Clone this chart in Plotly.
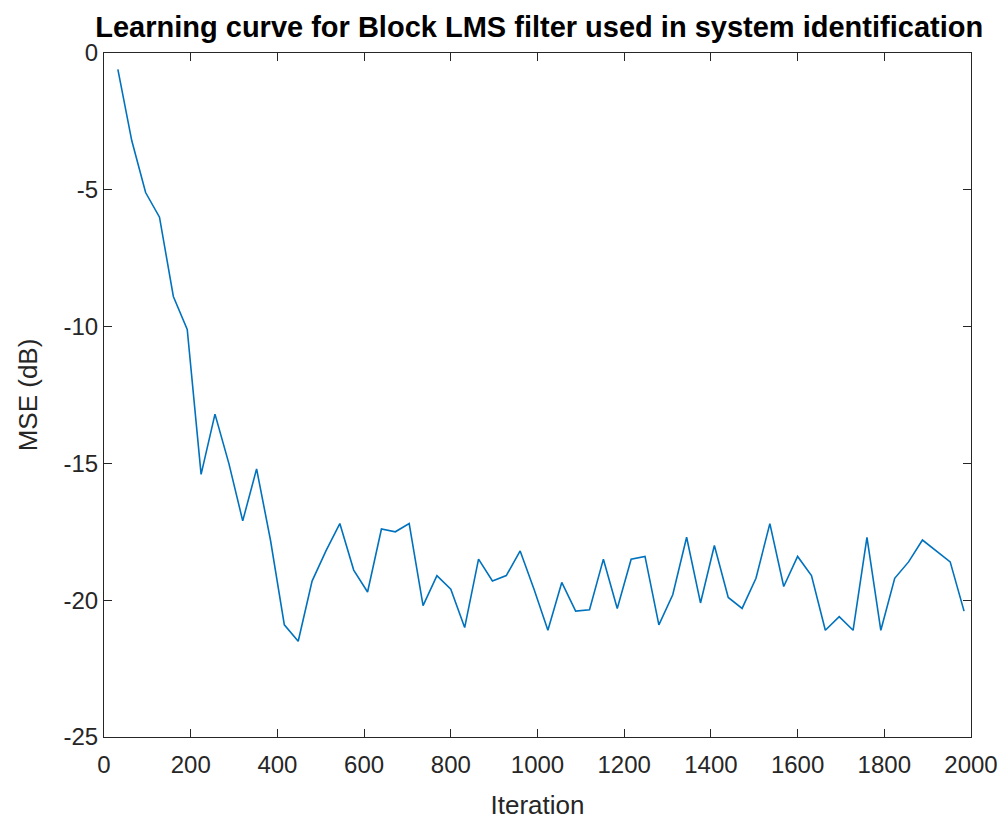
import plotly.graph_objects as go

# Block LMS learning curve: MSE (dB) sampled every block of 32 iterations
block_size = 32
iterations = [block_size * k for k in range(1, 63)]
mse_db = [
    -0.6, -3.2, -5.1, -6.0, -8.9, -10.1, -15.4, -13.2, -15.0, -17.1,
    -15.2, -17.8, -20.9, -21.5, -19.3, -18.2, -17.2, -18.9, -19.7, -17.4,
    -17.5, -17.2, -20.2, -19.1, -19.6, -21.0, -18.5, -19.3, -19.1, -18.2,
    -19.6, -21.1, -19.35, -20.4, -20.35, -18.5, -20.3, -18.5, -18.4, -20.9,
    -19.8, -17.7, -20.1, -18.0, -19.9, -20.3, -19.2, -17.2, -19.5, -18.4,
    -19.1, -21.1, -20.6, -21.1, -17.7, -21.1, -19.2, -18.6, -17.8, -18.2,
    -18.6, -20.4,
]

x_ticks = list(range(0, 2001, 200))
x_tick_labels = [str(v) for v in x_ticks]
y_ticks = [0, -5, -10, -15, -20, -25]
y_tick_labels = [str(v) for v in y_ticks]  # plain hyphen-minus

axis_color = "#262626"
font_family = "Liberation Sans, Arial, sans-serif"

fig = go.Figure(
    go.Scatter(
        x=iterations,
        y=mse_db,
        mode="lines",
        line=dict(color="#0072BD", width=1.6),
        showlegend=False,
    )
)

common_axis = dict(
    showline=True,
    linecolor=axis_color,
    linewidth=1.2,
    mirror="ticks",
    ticks="inside",
    ticklen=8,
    tickwidth=1,
    tickcolor=axis_color,
    showgrid=False,
    zeroline=False,
    automargin=False,
    tickfont=dict(family=font_family, size=24, color=axis_color),
)

fig.update_layout(
    width=1006,
    height=820,
    paper_bgcolor="white",
    plot_bgcolor="white",
    margin=dict(l=104, r=35, t=53, b=83),
    title=dict(
        text="<b>Learning curve for Block LMS filter used in system identification</b>",
        x=0.536,
        xanchor="center",
        y=0.967,
        yanchor="middle",
        font=dict(family=font_family, size=29, color="#000000"),
    ),
    xaxis=dict(
        range=[0, 2000],
        tickvals=x_ticks,
        ticktext=x_tick_labels,
        ticklabelstandoff=6,
        title=dict(text="Iteration", font=dict(family=font_family, size=26, color=axis_color), standoff=20),
        **common_axis,
    ),
    yaxis=dict(
        range=[-25, 0],
        tickvals=y_ticks,
        ticktext=y_tick_labels,
        title=dict(text="MSE (dB)", font=dict(family=font_family, size=26, color=axis_color), standoff=18),
        **common_axis,
    ),
)

fig.write_html("out.html")
